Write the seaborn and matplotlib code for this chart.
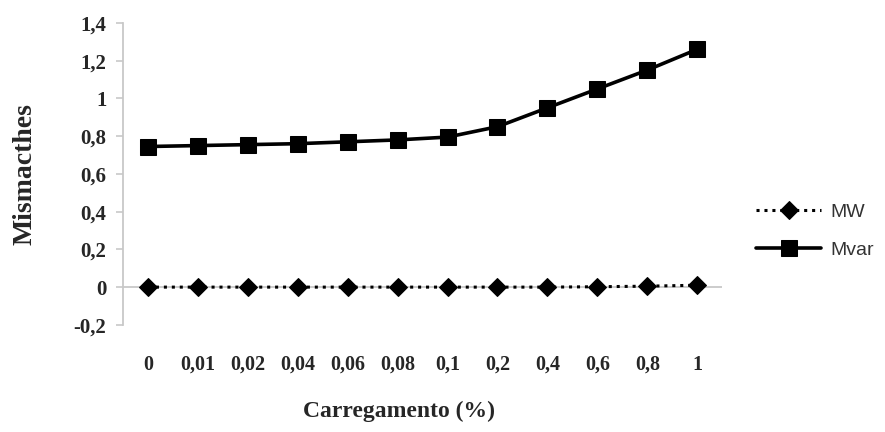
import matplotlib
matplotlib.use("Agg")
import matplotlib.pyplot as plt
import seaborn as sns
import pandas as pd

categories = ["0", "0,01", "0,02", "0,04", "0,06", "0,08", "0,1", "0,2", "0,4", "0,6", "0,8", "1"]
mw = [0.0, 0.0, 0.0, 0.0, 0.0, 0.0, 0.0, 0.0, 0.0, 0.002, 0.005, 0.01]
mvar = [0.745, 0.75, 0.755, 0.76, 0.77, 0.78, 0.795, 0.85, 0.95, 1.05, 1.15, 1.26]
y_ticks = [-0.2, 0, 0.2, 0.4, 0.6, 0.8, 1.0, 1.2, 1.4]
y_tick_labels = ["-0,2", "0", "0,2", "0,4", "0,6", "0,8", "1", "1,2", "1,4"]

sns.set_style("white")
serif = {"family": "Liberation Serif", "weight": "bold"}

df = pd.DataFrame({
    "pos": list(range(len(categories))) * 2,
    "value": mw + mvar,
    "serie": ["MW"] * len(mw) + ["Mvar"] * len(mvar),
})

fig = plt.figure(figsize=(8.85, 4.32), dpi=100)
ax = fig.add_axes([0.139, 0.248, 0.677, 0.699])

ax.axhline(0, color="#c8c8c8", lw=1.3, zorder=1)

sns.lineplot(data=df[df.serie == "MW"], x="pos", y="value", ax=ax, color="black",
             lw=2.2, linestyle=(0, (1, 1.6)), marker="D", markersize=9,
             markeredgecolor="black", label="MW", zorder=3)
sns.lineplot(data=df[df.serie == "Mvar"], x="pos", y="value", ax=ax, color="black",
             lw=2.6, marker="s", markersize=12, markeredgecolor="black",
             label="Mvar", zorder=3)

ax.set_xlim(-0.5, len(categories) - 0.5)
ax.set_ylim(-0.2, 1.4)
ax.set_yticks(y_ticks)
ax.set_yticklabels(y_tick_labels, fontdict=dict(serif, size=15))
ax.set_xticks(range(len(categories)))
ax.set_xticklabels(categories, fontdict=dict(serif, size=14.5))

for side in ["top", "right", "bottom"]:
    ax.spines[side].set_visible(False)
ax.spines["left"].set_color("#c8c8c8")
ax.spines["left"].set_linewidth(1.3)
ax.tick_params(axis="y", which="both", left=True, length=5, width=1.2,
               color="#c8c8c8", pad=7)
ax.tick_params(axis="x", bottom=False, pad=18)

ax.set_xlabel("Carregamento (%)", fontdict=dict(serif, size=17), labelpad=19)
ax.xaxis.label.set_x(0.46)
ax.set_ylabel("Mismacthes", fontdict=dict(serif, size=20), labelpad=26)

leg = ax.legend(loc="center left", bbox_to_anchor=(1.028, 0.31), frameon=False,
                prop={"family": "Liberation Sans", "size": 14},
                handlelength=3.3, labelspacing=1.05, handletextpad=0.5)
for txt in leg.get_texts():
    txt.set_color("#333333")

fig.savefig("out.png", dpi=100, facecolor="white")
